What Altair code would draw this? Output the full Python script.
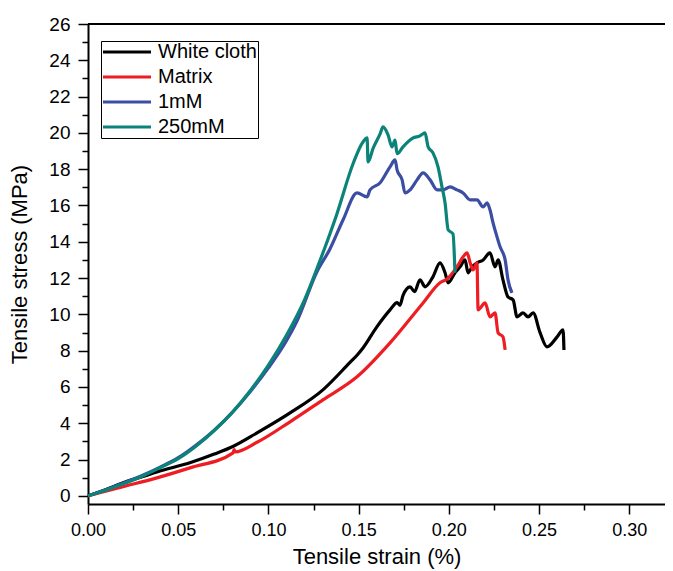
import altair as alt
import pandas as pd

series_names = ["White cloth", "Matrix", "1mM", "250mM"]
series_colors = ["#000000", "#ee1d23", "#3b4ea3", "#0b8379"]

wc_strain = [0, 0.010, 0.0194, 0.030, 0.0382, 0.0565, 0.070, 0.0803, 0.0937, 0.112, 0.1302,
             0.1452, 0.1491, 0.1524, 0.1600, 0.1674, 0.1713, 0.1729, 0.1746, 0.1785, 0.1810,
             0.1840, 0.1868, 0.1912, 0.1951, 0.1979, 0.1996, 0.2034, 0.2062, 0.2090, 0.2106,
             0.2129, 0.2156, 0.2190, 0.2228, 0.2256, 0.2273, 0.2300, 0.2328, 0.2356, 0.2378,
             0.2411, 0.2439, 0.2467, 0.2506, 0.2544, 0.2600, 0.2633, 0.2638]
wc_stress = [0, 0.35, 0.72, 1.05, 1.32, 1.82, 2.30, 2.72, 3.47, 4.57, 5.84,
             7.35, 7.75, 8.15, 9.30, 10.25, 10.65, 10.50, 11.05, 11.52, 11.25,
             11.90, 11.52, 12.07, 12.84, 12.29, 11.74, 12.29, 12.62, 13.00, 12.29,
             12.62, 12.84, 13.00, 13.39, 12.62, 13.00, 11.90, 10.96, 10.80, 9.86,
             10.08, 9.86, 10.08, 8.98, 8.21, 8.76, 9.15, 8.04]

mx_strain = [0, 0.0194, 0.0382, 0.0565, 0.0804, 0.0810, 0.0815, 0.0937, 0.112, 0.1302,
             0.1491, 0.1674, 0.1857, 0.1951, 0.1990, 0.2045, 0.2079, 0.2101, 0.2118,
             0.2134, 0.2156, 0.2162, 0.2201, 0.2228, 0.2256, 0.2273, 0.2300, 0.2312]
mx_stress = [0, 0.50, 0.99, 1.54, 2.37, 2.55, 2.42, 2.95, 4.08, 5.29,
             6.56, 8.43, 10.63, 11.74, 11.95, 12.62, 13.17, 13.39, 12.84,
             12.45, 12.84, 10.25, 10.63, 9.86, 10.08, 8.98, 8.76, 8.04]

m1_strain = [0, 0.010, 0.020, 0.030, 0.040, 0.050, 0.060, 0.070, 0.080, 0.090, 0.100,
             0.110, 0.1159, 0.1269, 0.1341, 0.1414, 0.1491, 0.1547, 0.1563, 0.1619,
             0.1674, 0.1702, 0.1713, 0.1741, 0.1757, 0.1785, 0.1824, 0.1857, 0.1896,
             0.1935, 0.1968, 0.2007, 0.2045, 0.2079, 0.2118, 0.2156, 0.2190, 0.2212,
             0.2228, 0.2245, 0.2267, 0.2284, 0.2312, 0.2328, 0.2350]
m1_stress = [0, 0.34, 0.72, 1.12, 1.58, 2.10, 2.80, 3.62, 4.60, 5.75, 7.05,
             8.55, 9.65, 12.35, 13.60, 15.21, 16.69, 16.47, 16.86, 17.25,
             18.13, 18.51, 17.96, 17.41, 16.69, 16.86, 17.41, 17.80, 17.41,
             16.86, 16.86, 17.02, 16.86, 16.69, 16.31, 16.31, 15.92, 16.14,
             15.76, 15.04, 14.27, 13.72, 13.00, 11.90, 11.18]

m250_strain = [0, 0.010, 0.020, 0.030, 0.040, 0.050, 0.060, 0.070, 0.080, 0.090, 0.100,
               0.110, 0.120, 0.127, 0.138, 0.1469, 0.1524, 0.1547, 0.1552, 0.1580, 0.1619,
               0.1635, 0.1663, 0.1685, 0.1702, 0.1713, 0.1746, 0.1802, 0.1840, 0.1857,
               0.1868, 0.1885, 0.1912, 0.1940, 0.1962, 0.1979, 0.1996, 0.2023, 0.2034]
m250_stress = [0, 0.32, 0.68, 1.08, 1.55, 2.05, 2.75, 3.60, 4.60, 5.80, 7.20,
               8.85, 10.80, 12.55, 15.55, 18.30, 19.50, 19.72, 18.40, 19.15, 19.95,
               20.33, 19.89, 19.23, 19.60, 18.85, 19.23, 19.72, 19.84, 19.95,
               20.00, 19.23, 18.90, 18.13, 17.02, 16.14, 14.66, 14.43, 12.29]

x_ticks = [0, 0.025, 0.05, 0.075, 0.10, 0.125, 0.15, 0.175, 0.20, 0.225, 0.25, 0.275, 0.30]
y_ticks = list(range(0, 27))

W, H = 577, 480
FONT = "Liberation Sans"

frames = []
for name, xs, ys in zip(series_names,
                        [wc_strain, mx_strain, m1_strain, m250_strain],
                        [wc_stress, mx_stress, m1_stress, m250_stress]):
    frames.append(pd.DataFrame({"strain": xs, "stress": ys, "series": name,
                                "idx": list(range(len(xs)))}))

xscale = alt.Scale(domain=[0, 0.3198], nice=False, zero=False)
yscale = alt.Scale(domain=[-0.45, 26], nice=False, zero=False)

x_axis = alt.Axis(
    values=x_ticks, grid=False,
    labelExpr="abs(datum.value*20 - round(datum.value*20)) < 0.01 ? format(datum.value, '.2f') : ''",
    tickSize={"condition": {"test": "abs(datum.value*20 - round(datum.value*20)) > 0.01", "value": 6}, "value": 10},
    tickWidth=1.5, tickColor="black", domainColor="black", domainWidth=2,
    labelFont=FONT, labelFontSize=18, labelColor="black", labelPadding=7,
    labelFlush=False, labelOverlap=False,
    title="Tensile strain (%)", titleFont=FONT, titleFontSize=22, titleFontWeight="normal",
    titleColor="black", titlePadding=7,
)
y_axis = alt.Axis(
    values=y_ticks, grid=False,
    labelExpr="datum.value % 2 == 0 ? format(datum.value, 'd') : ''",
    tickSize={"condition": {"test": "datum.value % 2 != 0", "value": 6}, "value": 10},
    tickWidth=1.5, tickColor="black", domainColor="black", domainWidth=2,
    labelFont=FONT, labelFontSize=19, labelColor="black", labelPadding=8,
    labelFlush=False, labelOverlap=False,
    title="Tensile stress (MPa)", titleFont=FONT, titleFontSize=22, titleFontWeight="normal",
    titleColor="black", titlePadding=17,
)

color = alt.Color(
    "series:N",
    scale=alt.Scale(domain=series_names, range=series_colors),
    sort=series_names,
    legend=alt.Legend(
        title=None, orient="none", legendX=13, legendY=17,
        symbolType="M-4,0H4", symbolSize=144, symbolStrokeWidth=3, symbolOffset=15,
        symbolFillColor="transparent",
        labelFont=FONT, labelFontSize=20, labelColor="black", labelOffset=21,
        strokeColor="black", padding=1, rowPadding=5,
    ),
)

layers = []
for df in frames:
    enc = dict(
        x=alt.X("strain:Q", scale=xscale, axis=x_axis),
        y=alt.Y("stress:Q", scale=yscale, axis=y_axis),
        color=color,
        order="idx:Q",
    )
    layers.append(alt.Chart(df).mark_line(strokeWidth=3.2, strokeJoin="miter",
                                          interpolate="monotone").encode(**enc))

top_line = alt.Chart(pd.DataFrame({"a": [0]})).mark_rule(color="black", strokeWidth=2).encode(
    x=alt.value(0), x2=alt.value(W), y=alt.value(0)
)

chart = alt.layer(*layers, top_line).properties(
    width=W, height=H,
    padding={"left": 80, "top": 16, "right": 0, "bottom": 68},
    autosize=alt.AutoSizeParams(type="none"),
).configure_view(stroke=None).configure(background="white")

chart.save("out.html", embed_options={"renderer": "svg", "actions": False})
